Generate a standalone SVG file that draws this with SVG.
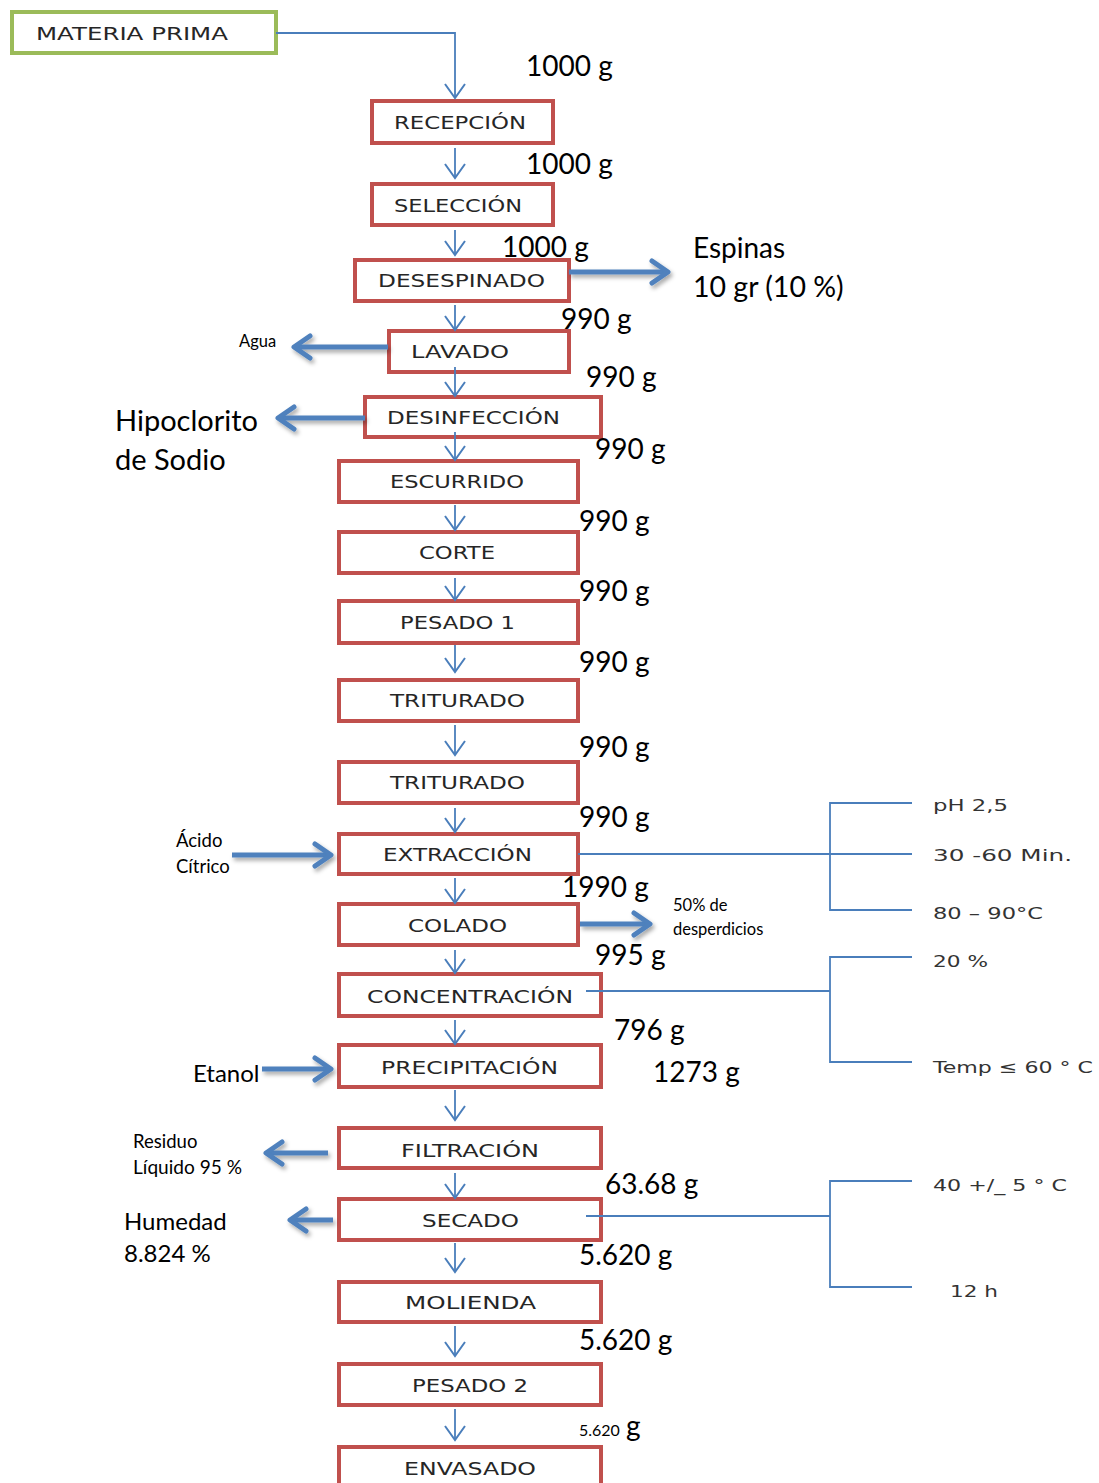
<svg xmlns="http://www.w3.org/2000/svg" width="1099" height="1483" viewBox="0 0 1099 1483">
<style>
.box{fill:#fff;stroke:#C0504D;stroke-width:4}
.green{fill:#fff;stroke:#9BBB59;stroke-width:4}
.nt{font-family:"DejaVu Sans",sans-serif;font-size:18.5px;fill:#262626}
.thin{fill:none;stroke:#4A7EBB;stroke-width:1.8}
.thick{fill:none;stroke:#4F81BD;stroke-width:5}
.br{fill:none;stroke:#4A7EBB;stroke-width:1.8}
.w{font-family:Lato,"Liberation Sans",sans-serif;font-size:28px;fill:#000}
.s{font-family:Lato,"Liberation Sans",sans-serif;font-size:18.5px;fill:#000}
.cg{font-family:"DejaVu Sans",sans-serif;font-size:16.5px;fill:#333}
</style>
<defs>
<marker id="ah" markerUnits="userSpaceOnUse" markerWidth="30" markerHeight="30" viewBox="-15 -15 30 30" refX="0" refY="0" orient="auto">
<path d="M-14,-10 L0,0 L-14,10" fill="none" stroke="#4A7EBB" stroke-width="2"/>
</marker>
<marker id="ahb" markerUnits="userSpaceOnUse" markerWidth="40" markerHeight="40" viewBox="-20 -20 40 40" refX="0" refY="0" orient="auto">
<path d="M-16,-11 L0,0 L-16,11" fill="none" stroke="#4F81BD" stroke-width="5" stroke-linecap="round" stroke-linejoin="round"/>
</marker>
<filter id="sh" x="-20%" y="-50%" width="140%" height="200%">
<feDropShadow dx="2" dy="3" stdDeviation="2" flood-color="#000" flood-opacity="0.35"/>
</filter>
</defs>

<g id="n-materia"><rect class="green" x="12" y="12" width="264" height="41"/><text class="nt" x="36" y="40" textLength="192" lengthAdjust="spacingAndGlyphs">MATERIA PRIMA</text></g>
<g id="n-recepcion"><rect class="box" x="372" y="101" width="181" height="42"/><text class="nt" x="394" y="129" textLength="132" lengthAdjust="spacingAndGlyphs">RECEPCIÓN</text></g>
<g id="n-seleccion"><rect class="box" x="372" y="184" width="181" height="41"/><text class="nt" x="394" y="212" textLength="128" lengthAdjust="spacingAndGlyphs">SELECCIÓN</text></g>
<g id="n-desespinado"><rect class="box" x="355" y="260" width="214" height="41"/><text class="nt" x="378" y="287" textLength="167" lengthAdjust="spacingAndGlyphs">DESESPINADO</text></g>
<g id="n-lavado"><rect class="box" x="389" y="331" width="180" height="41"/><text class="nt" x="411" y="358" textLength="98" lengthAdjust="spacingAndGlyphs">LAVADO</text></g>
<g id="n-desinfeccion"><rect class="box" x="365" y="397" width="236" height="40"/><text class="nt" x="387" y="424" textLength="173" lengthAdjust="spacingAndGlyphs">DESINFECCIÓN</text></g>
<g id="n-escurrido"><rect class="box" x="339" y="461" width="239" height="41"/><text class="nt" x="390" y="488" textLength="134" lengthAdjust="spacingAndGlyphs">ESCURRIDO</text></g>
<g id="n-corte"><rect class="box" x="339" y="532" width="239" height="41"/><text class="nt" x="419" y="559" textLength="76" lengthAdjust="spacingAndGlyphs">CORTE</text></g>
<g id="n-pesado1"><rect class="box" x="339" y="601" width="239" height="42"/><text class="nt" x="400" y="629" textLength="115" lengthAdjust="spacingAndGlyphs">PESADO 1</text></g>
<g id="n-triturado1"><rect class="box" x="339" y="680" width="239" height="41"/><text class="nt" x="390" y="707" textLength="135" lengthAdjust="spacingAndGlyphs">TRITURADO</text></g>
<g id="n-triturado2"><rect class="box" x="339" y="762" width="239" height="41"/><text class="nt" x="390" y="789" textLength="135" lengthAdjust="spacingAndGlyphs">TRITURADO</text></g>
<g id="n-extraccion"><rect class="box" x="339" y="834" width="239" height="40"/><text class="nt" x="383" y="861" textLength="149" lengthAdjust="spacingAndGlyphs">EXTRACCIÓN</text></g>
<g id="n-colado"><rect class="box" x="339" y="904" width="239" height="41"/><text class="nt" x="408" y="932" textLength="99" lengthAdjust="spacingAndGlyphs">COLADO</text></g>
<g id="n-concentracion"><rect class="box" x="339" y="974" width="262" height="42"/><text class="nt" x="367" y="1003" textLength="206" lengthAdjust="spacingAndGlyphs">CONCENTRACIÓN</text></g>
<g id="n-precipitacion"><rect class="box" x="339" y="1045" width="262" height="42"/><text class="nt" x="381" y="1074" textLength="177" lengthAdjust="spacingAndGlyphs">PRECIPITACIÓN</text></g>
<g id="n-filtracion"><rect class="box" x="339" y="1128" width="262" height="40"/><text class="nt" x="401" y="1157" textLength="138" lengthAdjust="spacingAndGlyphs">FILTRACIÓN</text></g>
<g id="n-secado"><rect class="box" x="339" y="1199" width="262" height="41"/><text class="nt" x="422" y="1227" textLength="97" lengthAdjust="spacingAndGlyphs">SECADO</text></g>
<g id="n-molienda"><rect class="box" x="339" y="1282" width="262" height="40"/><text class="nt" x="405" y="1309" textLength="131" lengthAdjust="spacingAndGlyphs">MOLIENDA</text></g>
<g id="n-pesado2"><rect class="box" x="339" y="1364" width="262" height="41"/><text class="nt" x="412" y="1392" textLength="116" lengthAdjust="spacingAndGlyphs">PESADO 2</text></g>
<g id="n-envasado"><rect class="box" x="339" y="1447" width="262" height="44"/><text class="nt" x="404" y="1475" textLength="132" lengthAdjust="spacingAndGlyphs">ENVASADO</text></g>

<g id="connectors">
<path class="thin" d="M276,33 H455 V98" marker-end="url(#ah)"/>
<path class="thin" d="M455,148 V178" marker-end="url(#ah)"/>
<path class="thin" d="M455,230 V255" marker-end="url(#ah)"/>
<path class="thin" d="M455,305 V330" marker-end="url(#ah)"/>
<path class="thin" d="M455,367 V396" marker-end="url(#ah)"/>
<path class="thin" d="M455,432 V460" marker-end="url(#ah)"/>
<path class="thin" d="M455,505 V530" marker-end="url(#ah)"/>
<path class="thin" d="M455,578 V600" marker-end="url(#ah)"/>
<path class="thin" d="M455,645 V672" marker-end="url(#ah)"/>
<path class="thin" d="M455,725 V755" marker-end="url(#ah)"/>
<path class="thin" d="M455,808 V832" marker-end="url(#ah)"/>
<path class="thin" d="M455,878 V903" marker-end="url(#ah)"/>
<path class="thin" d="M455,950 V973" marker-end="url(#ah)"/>
<path class="thin" d="M455,1020 V1044" marker-end="url(#ah)"/>
<path class="thin" d="M455,1090 V1120" marker-end="url(#ah)"/>
<path class="thin" d="M455,1173 V1198" marker-end="url(#ah)"/>
<path class="thin" d="M455,1243 V1272" marker-end="url(#ah)"/>
<path class="thin" d="M455,1326 V1356" marker-end="url(#ah)"/>
<path class="thin" d="M455,1409 V1440" marker-end="url(#ah)"/>

<g filter="url(#sh)">
<path class="thick" d="M569,272 H668" marker-end="url(#ahb)"/>
<path class="thick" d="M388,347 H294" marker-end="url(#ahb)"/>
<path class="thick" d="M365,418 H278" marker-end="url(#ahb)"/>
<path class="thick" d="M232,855 H331" marker-end="url(#ahb)"/>
<path class="thick" d="M580,924 H650" marker-end="url(#ahb)"/>
<path class="thick" d="M262,1069 H331" marker-end="url(#ahb)"/>
<path class="thick" d="M328,1153 H266" marker-end="url(#ahb)"/>
<path class="thick" d="M333,1220 H290" marker-end="url(#ahb)"/>
</g>

<path class="br" d="M578,854 H912 M912,803 H830 V910 H912"/>
<path class="br" d="M586,991 H830 M912,957 H830 V1062 H912"/>
<path class="br" d="M586,1216 H830 M912,1181 H830 V1287 H912"/>
</g>

<g id="labels">
<text class="w" x="526" y="76">1000 g</text>
<text class="w" x="526" y="174">1000 g</text>
<text class="w" x="502" y="257">1000 g</text>
<text class="w" x="561" y="329">990 g</text>
<text class="w" x="586" y="387">990 g</text>
<text class="w" x="595" y="459">990 g</text>
<text class="w" x="579" y="531">990 g</text>
<text class="w" x="579" y="601">990 g</text>
<text class="w" x="579" y="672">990 g</text>
<text class="w" x="579" y="757">990 g</text>
<text class="w" x="579" y="827">990 g</text>
<text class="w" x="562" y="897">1990 g</text>
<text class="w" x="595" y="965">995 g</text>
<text class="w" x="614" y="1040">796 g</text>
<text class="w" x="653" y="1082">1273 g</text>
<text class="w" x="605" y="1194">63.68 g</text>
<text class="w" x="579" y="1265">5.620 g</text>
<text class="w" x="579" y="1350">5.620 g</text>
<text class="s" x="579" y="1436" style="font-size:16px">5.620</text><text class="w" x="626" y="1436">g</text>

<text class="w" x="693" y="258">Espinas</text>
<text class="w" x="693" y="297" style="font-size:28.5px">10 gr (10 %)</text>
<text class="s" x="239" y="347" style="font-size:16.5px">Agua</text>
<text class="w" x="115" y="431" style="font-size:29px">Hipoclorito</text>
<text class="w" x="115" y="470" style="font-size:29px">de Sodio</text>
<text class="s" x="176" y="847">Ácido</text>
<text class="s" x="176" y="873">Cítrico</text>
<text class="s" x="673" y="911" style="font-size:16.5px">50% de</text>
<text class="s" x="673" y="935" style="font-size:16.5px">desperdicios</text>
<text class="w" x="193" y="1082" style="font-size:24px">Etanol</text>
<text class="s" x="133" y="1148">Residuo</text>
<text class="s" x="133" y="1174" textLength="109" lengthAdjust="spacingAndGlyphs">Líquido 95 %</text>
<text class="w" x="124" y="1230" style="font-size:24px">Humedad</text>
<text class="w" x="124" y="1262" style="font-size:24px">8.824 %</text>

<text class="cg" x="933" y="811" textLength="75" lengthAdjust="spacingAndGlyphs">pH 2,5</text>
<text class="cg" x="933" y="861" textLength="139" lengthAdjust="spacingAndGlyphs">30  -60 Min.</text>
<text class="cg" x="933" y="919" textLength="110" lengthAdjust="spacingAndGlyphs">80 – 90°C</text>
<text class="cg" x="933" y="967" textLength="55" lengthAdjust="spacingAndGlyphs">20 %</text>
<text class="cg" x="933" y="1073" textLength="160" lengthAdjust="spacingAndGlyphs">Temp ≤ 60 ° C</text>
<text class="cg" x="933" y="1191" textLength="134" lengthAdjust="spacingAndGlyphs">40 +/_ 5 ° C</text>
<text class="cg" x="950" y="1297" textLength="48" lengthAdjust="spacingAndGlyphs">12 h</text>
</g>
</svg>
